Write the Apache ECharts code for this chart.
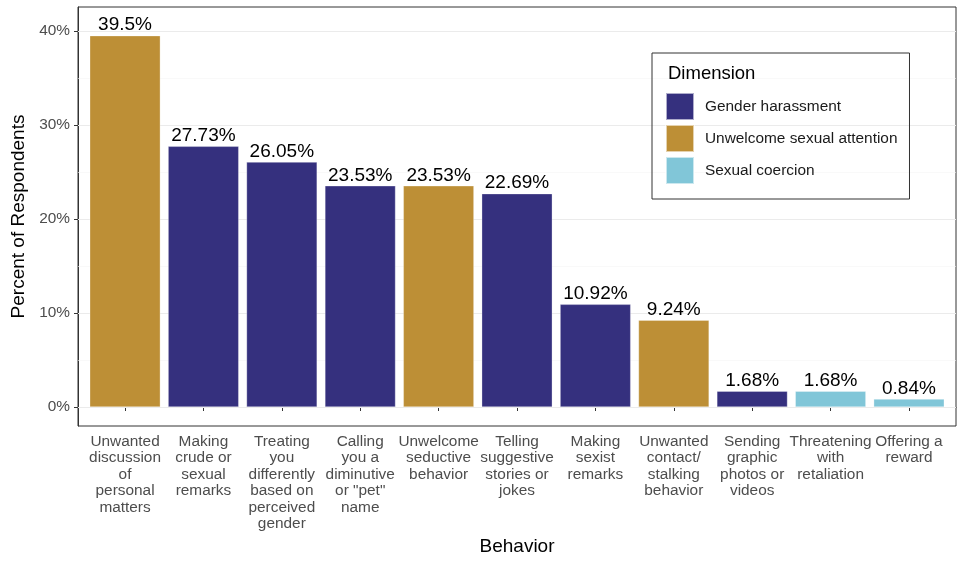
<!DOCTYPE html>
<html>
<head>
<meta charset="utf-8">
<script src="https://cdn.jsdelivr.net/npm/echarts@6/dist/echarts.min.js"></script>
<style>
html,body{margin:0;padding:0;background:#fff;}
#chart{width:967px;height:562px;}
</style>
</head>
<body>
<div id="chart"></div>
<script>
// ---- data ----
const categories = [
  "Unwanted\ndiscussion\nof\npersonal\nmatters",
  "Making\ncrude or\nsexual\nremarks",
  "Treating\nyou\ndifferently\nbased on\nperceived\ngender",
  "Calling\nyou a\ndiminutive\nor \"pet\"\nname",
  "Unwelcome\nseductive\nbehavior",
  "Telling\nsuggestive\nstories or\njokes",
  "Making\nsexist\nremarks",
  "Unwanted\ncontact/\nstalking\nbehavior",
  "Sending\ngraphic\nphotos or\nvideos",
  "Threatening\nwith\nretaliation",
  "Offering a\nreward"
];
const values = [39.5, 27.73, 26.05, 23.53, 23.53, 22.69, 10.92, 9.24, 1.68, 1.68, 0.84];
const dimensionOf = ["U", "G", "G", "G", "U", "G", "G", "U", "G", "C", "C"];
const dimensions = [
  {key: "G", name: "Gender harassment"},
  {key: "U", name: "Unwelcome sexual attention"},
  {key: "C", name: "Sexual coercion"}
];
const yTicks = [0, 10, 20, 30, 40];
const yMinorTicks = [5, 15, 25, 35];

// ---- styles ----
const colors = {G: "#35307E", U: "#BD8F36", C: "#81C6D8"};
const FONT = "Liberation Sans, Arial, Helvetica, sans-serif";
const positions = categories.map((c, i) => i + 1);

const series = dimensions.map((d, si) => {
  const s = {
    name: d.name,
    type: "bar",
    barWidth: "90%",
    barGap: "-100%",
    itemStyle: {color: colors[d.key], borderColor: "rgba(255,255,255,0.6)", borderWidth: 0.5},
    label: {
      show: true, position: "top", distance: 1,
      color: "#000", fontSize: 19, fontFamily: FONT,
      formatter: p => p.value[1] + "%"
    },
    data: values.map((v, i) => dimensionOf[i] === d.key ? [positions[i], v] : null).filter(x => x)
  };
  if (si === 0) {
    s.markLine = {
      silent: true, symbol: "none", z: 1, animation: false,
      label: {show: false},
      data: yTicks.map(v => ({yAxis: v, lineStyle: {color: "#EBEBEB", width: 1, type: "solid"}}))
        .concat(yMinorTicks.map(v => ({yAxis: v, lineStyle: {color: "#F5F5F5", width: 0.6, type: "solid"}})))
    };
  }
  return s;
});

const chart = echarts.init(document.getElementById("chart"), null, {renderer: "canvas"});
chart.setOption({
  animation: false,
  backgroundColor: "#fff",
  textStyle: {fontFamily: FONT},
  title: {
    text: "Dimension", left: 663, top: 59,
    textStyle: {fontSize: 18.5, fontWeight: "normal", color: "#000", fontFamily: FONT}
  },
  legend: {
    orient: "vertical",
    left: 652, top: 53,
    padding: [39, 12, 14, 13],
    itemWidth: 28, itemHeight: 27, itemGap: 3,
    borderColor: "#333", borderWidth: 1,
    icon: "rect",
    textStyle: {fontSize: 15.4, color: "#1A1A1A", fontFamily: FONT, padding: [0, 0, 0, 6]},
    data: dimensions.map(d => d.name)
  },
  grid: {
    left: 78, right: 11, top: 7, bottom: 136,
    show: true, borderColor: "#333", borderWidth: 1, backgroundColor: "#fff",
    containLabel: false,
    outerBoundsMode: "none"
  },
  xAxis: {
    type: "value",
    min: 0.4, max: 11.6,
    name: "Behavior", nameLocation: "middle", nameGap: 111,
    nameTextStyle: {fontSize: 19, color: "#000", fontFamily: FONT},
    axisLine: {show: true, lineStyle: {color: "#333"}},
    axisTick: {show: true, customValues: positions, length: 4, lineStyle: {color: "#333"}},
    axisLabel: {
      customValues: positions, margin: 7,
      color: "#4D4D4D", fontSize: 15.4, lineHeight: 16.5, fontFamily: FONT, align: "center",
      formatter: v => categories[Math.round(v) - 1]
    },
    splitLine: {show: false}
  },
  yAxis: {
    type: "value",
    min: -2.02, max: 42.55,
    name: "Percent of Respondents", nameLocation: "middle", nameGap: 42, nameRotate: 90,
    nameTextStyle: {fontSize: 19, color: "#000", fontFamily: FONT},
    axisLine: {show: true, lineStyle: {color: "#333"}},
    axisTick: {show: true, customValues: yTicks, length: 4, lineStyle: {color: "#333"}},
    axisLabel: {
      customValues: yTicks, margin: 8,
      color: "#4D4D4D", fontSize: 15.4, fontFamily: FONT,
      formatter: v => v + "%"
    },
    splitLine: {show: false}
  },
  series: series
});
</script>
</body>
</html>
